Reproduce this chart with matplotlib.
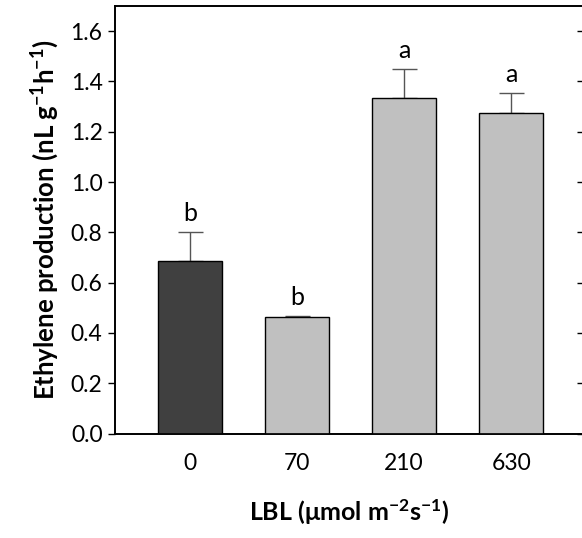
import matplotlib
matplotlib.use("Agg")
import matplotlib.pyplot as plt
import numpy as np

plt.rcParams['font.family'] = ['Lato', 'DejaVu Sans']
plt.rcParams['mathtext.fontset'] = 'custom'
plt.rcParams['mathtext.rm'] = 'Lato:bold'
plt.rcParams['mathtext.bf'] = 'Lato:bold'
plt.rcParams['mathtext.it'] = 'Lato:bold'

# data
lbl_levels = ['0', '70', '210', '630']
ethylene = [0.688, 0.462, 1.336, 1.274]
ethylene_se = [0.115, 0.007, 0.115, 0.082]
letters = ['b', 'b', 'a', 'a']
bar_colors = ['#404040', '#c0c0c0', '#c0c0c0', '#c0c0c0']

fig = plt.figure(figsize=(5.82, 5.38), dpi=100)
ax = fig.add_axes([0.1976, 0.1942, 0.806, 0.7946])

x = np.arange(len(lbl_levels))
ax.bar(x, ethylene, width=0.6, color=bar_colors, edgecolor='black', linewidth=1.0, zorder=3)
ax.errorbar(x, ethylene, yerr=[np.zeros(len(x)), ethylene_se], fmt='none',
            ecolor='#555555', elinewidth=1.0, capsize=9, capthick=1.0, zorder=2)

for xi, v, e, s in zip(x, ethylene, ethylene_se, letters):
    ax.annotate(s, (xi, v + e), xytext=(0, 5), textcoords='offset points',
                ha='center', va='bottom', fontsize=18)

ax.set_xlim(-0.7, 3.68)
ax.set_ylim(0, 1.7)
ax.set_yticks(np.arange(0, 1.61, 0.2))
ax.set_yticklabels(['%.1f' % t for t in np.arange(0, 1.61, 0.2)], fontsize=16.5)
ax.set_xticks(x)
ax.set_xticklabels(lbl_levels, fontsize=16.5)
ax.tick_params(axis='x', length=0, pad=14)
ax.tick_params(axis='y', direction='out', length=5, width=1, pad=4)

ax2 = ax.twinx()
ax2.set_ylim(0, 1.7)
ax2.set_yticks(np.arange(0, 1.61, 0.2))
ax2.tick_params(axis='y', direction='in', length=5, width=1, labelright=False)

for a in (ax, ax2):
    for sp in a.spines.values():
        sp.set_linewidth(1.2)

ax.set_ylabel(r'Ethylene production (nL g$^{-1}$h$^{-1}$)', fontsize=18.5, fontweight='bold', labelpad=7)
ax.set_xlabel(r'LBL (μmol m$^{-2}$s$^{-1}$)', fontsize=18, fontweight='bold', labelpad=17)

fig.savefig('out.png', dpi=100)
